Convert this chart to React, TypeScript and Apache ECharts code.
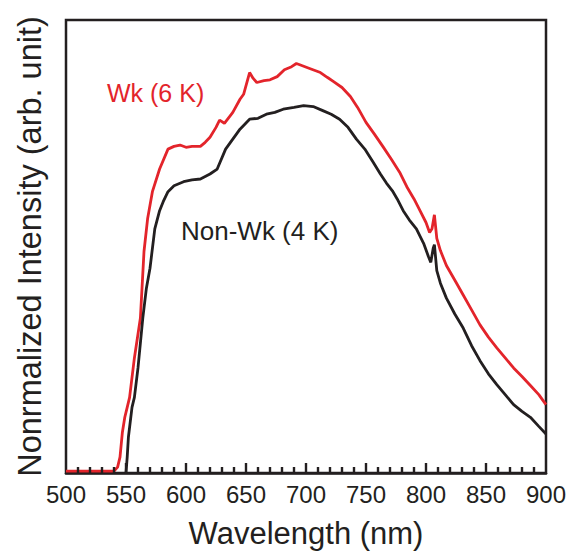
import React, { useEffect, useRef } from "react";
import * as echarts from "echarts";

const redWavelength = [500, 540, 543, 545, 547, 549, 551, 553, 557, 562, 565, 568, 572, 578, 585, 590, 595, 600, 605, 612, 616, 620, 625, 628, 632, 639, 645, 648, 653, 656, 659, 665, 670, 676, 682, 688, 692, 697, 703, 712, 718, 723, 730, 737, 743, 750, 757, 764, 771, 778, 784, 790, 795, 800, 803, 805, 807, 809, 812, 817, 825, 831, 838, 845, 852, 859, 866, 873, 880, 887, 894, 900];
const redIntensity = [0.4, 0.4, 1.3, 3.5, 9.0, 12.3, 14.5, 16.7, 25.4, 34.2, 48.9, 56.1, 62.1, 67.1, 71.5, 72.1, 72.4, 71.9, 72.1, 72.1, 73.0, 74.1, 76.3, 77.9, 77.2, 79.6, 82.5, 83.6, 88.4, 87.1, 86.2, 86.6, 86.8, 87.5, 89.0, 89.7, 90.4, 89.9, 89.3, 88.4, 87.3, 86.4, 85.1, 83.1, 80.7, 77.4, 74.8, 72.1, 69.3, 66.4, 63.2, 60.5, 57.9, 55.3, 53.1, 53.9, 57.0, 51.8, 49.1, 45.8, 42.1, 39.3, 36.0, 32.7, 30.0, 27.6, 25.4, 23.2, 21.3, 19.3, 17.3, 15.1];

const blackWavelength = [550, 551, 552, 555, 557, 560, 564, 567, 570, 574, 578, 581, 585, 590, 598, 605, 612, 620, 626, 633, 639, 645, 653, 660, 667, 674, 681, 690, 698, 706, 714, 721, 728, 735, 742, 749, 756, 762, 767, 772, 776, 781, 786, 792, 798, 802, 804, 806, 807, 809, 812, 817, 824, 831, 838, 845, 852, 859, 866, 873, 880, 887, 894, 900];
const blackIntensity = [0, 3.5, 7.9, 14.5, 16.7, 23.2, 34.2, 40.8, 45.2, 53.9, 57.9, 59.9, 62.1, 63.4, 64.3, 64.7, 64.9, 66.0, 67.1, 71.5, 73.7, 75.9, 78.1, 78.3, 79.2, 79.6, 80.3, 80.7, 81.1, 80.9, 80.0, 79.2, 78.1, 76.3, 73.7, 71.5, 68.6, 66.0, 64.0, 62.3, 60.5, 57.9, 55.9, 53.9, 50.7, 47.8, 46.5, 49.6, 50.4, 44.7, 41.9, 38.6, 35.1, 32.0, 28.1, 24.8, 21.9, 19.5, 17.3, 15.1, 13.6, 12.3, 10.3, 8.6];

// tick marks on the wavelength axis: major every 50 nm, minor every 10 nm
const majorTicks = [550, 600, 650, 700, 750, 800, 850];
const minorTicks = [510, 520, 530, 540, 560, 570, 580, 590, 610, 620, 630, 640, 660, 670, 680, 690, 710, 720, 730, 740, 760, 770, 780, 790, 810, 820, 830, 840, 860, 870, 880, 890];

const seriesNames = ["Wk (6 K)", "Non-Wk (4 K)"];
const xAxisTitle = "Wavelength (nm)";
const yAxisTitle = "Nonrmalized Intensity (arb. unit)";

const RED = "#e3242b";
const BLACK = "#231f20";
const FONT = "'Liberation Sans', Arial, Helvetica, sans-serif";

export default function App() {
  const ref = useRef<HTMLDivElement>(null);
  useEffect(() => {
    if (!ref.current) return;
    const chart = echarts.init(ref.current, null, { renderer: "svg" });
    const redData = redWavelength.map((x, i) => [x, redIntensity[i]]);
    const blackData = blackWavelength.map((x, i) => [x, blackIntensity[i]]);
    const tickData = [
      ...majorTicks.map((x) => [x, 0, 1]),
      ...minorTicks.map((x) => [x, 0, 0]),
    ];
    chart.setOption({
      animation: false,
      backgroundColor: "#ffffff",
      textStyle: { fontFamily: FONT },
      grid: {
        left: 66,
        right: 33,
        top: 20,
        bottom: 78,
        show: true,
        borderColor: BLACK,
        borderWidth: 2.5,
        backgroundColor: "transparent",
      },
      xAxis: {
        type: "value",
        min: 500,
        max: 900,
        interval: 50,
        name: xAxisTitle,
        nameLocation: "middle",
        nameGap: 45,
        nameTextStyle: { fontSize: 31, color: BLACK, fontFamily: FONT },
        axisLine: { show: true, onZero: false, lineStyle: { color: BLACK, width: 2.5 } },
        axisTick: { show: false },
        minorTick: { show: false },
        splitLine: { show: false },
        minorSplitLine: { show: false },
        axisLabel: { fontSize: 24, color: BLACK, margin: 9, fontFamily: FONT },
      },
      yAxis: {
        type: "value",
        min: 0,
        max: 100,
        name: yAxisTitle,
        nameLocation: "middle",
        nameGap: 20,
        nameTextStyle: { fontSize: 32.5, color: BLACK, fontFamily: FONT },
        axisLine: { show: false },
        axisTick: { show: false },
        axisLabel: { show: false },
        splitLine: { show: false },
      },
      series: [
        {
          name: "ticks",
          type: "custom",
          data: tickData,
          silent: true,
          clip: false,
          z: 5,
          renderItem: (params: any, api: any) => {
            const p = api.coord([api.value(0), api.value(1)]);
            const len = api.value(2) === 1 ? 10 : 6;
            return {
              type: "line",
              shape: { x1: p[0], y1: p[1], x2: p[0], y2: p[1] - len },
              style: { stroke: BLACK, lineWidth: 2.4 },
            };
          },
        },
        {
          name: seriesNames[0],
          type: "line",
          data: redData,
          showSymbol: false,
          lineStyle: { color: RED, width: 2.8 },
          itemStyle: { color: RED },
          z: 2,
        },
        {
          name: seriesNames[1],
          type: "line",
          data: blackData,
          showSymbol: false,
          lineStyle: { color: BLACK, width: 2.8 },
          itemStyle: { color: BLACK },
          z: 3,
        },
      ],
      graphic: [
        {
          type: "text",
          left: 107,
          top: 80,
          style: { text: seriesNames[0], fill: RED, fontSize: 25, fontFamily: FONT },
        },
        {
          type: "text",
          left: 181,
          top: 218,
          style: { text: seriesNames[1], fill: BLACK, fontSize: 26, fontFamily: FONT },
        },
      ],
    });
    return () => chart.dispose();
  }, []);
  return (
    <div
      ref={ref}
      style={{ position: "fixed", left: 0, top: 0, width: 579, height: 554 }}
    />
  );
}
